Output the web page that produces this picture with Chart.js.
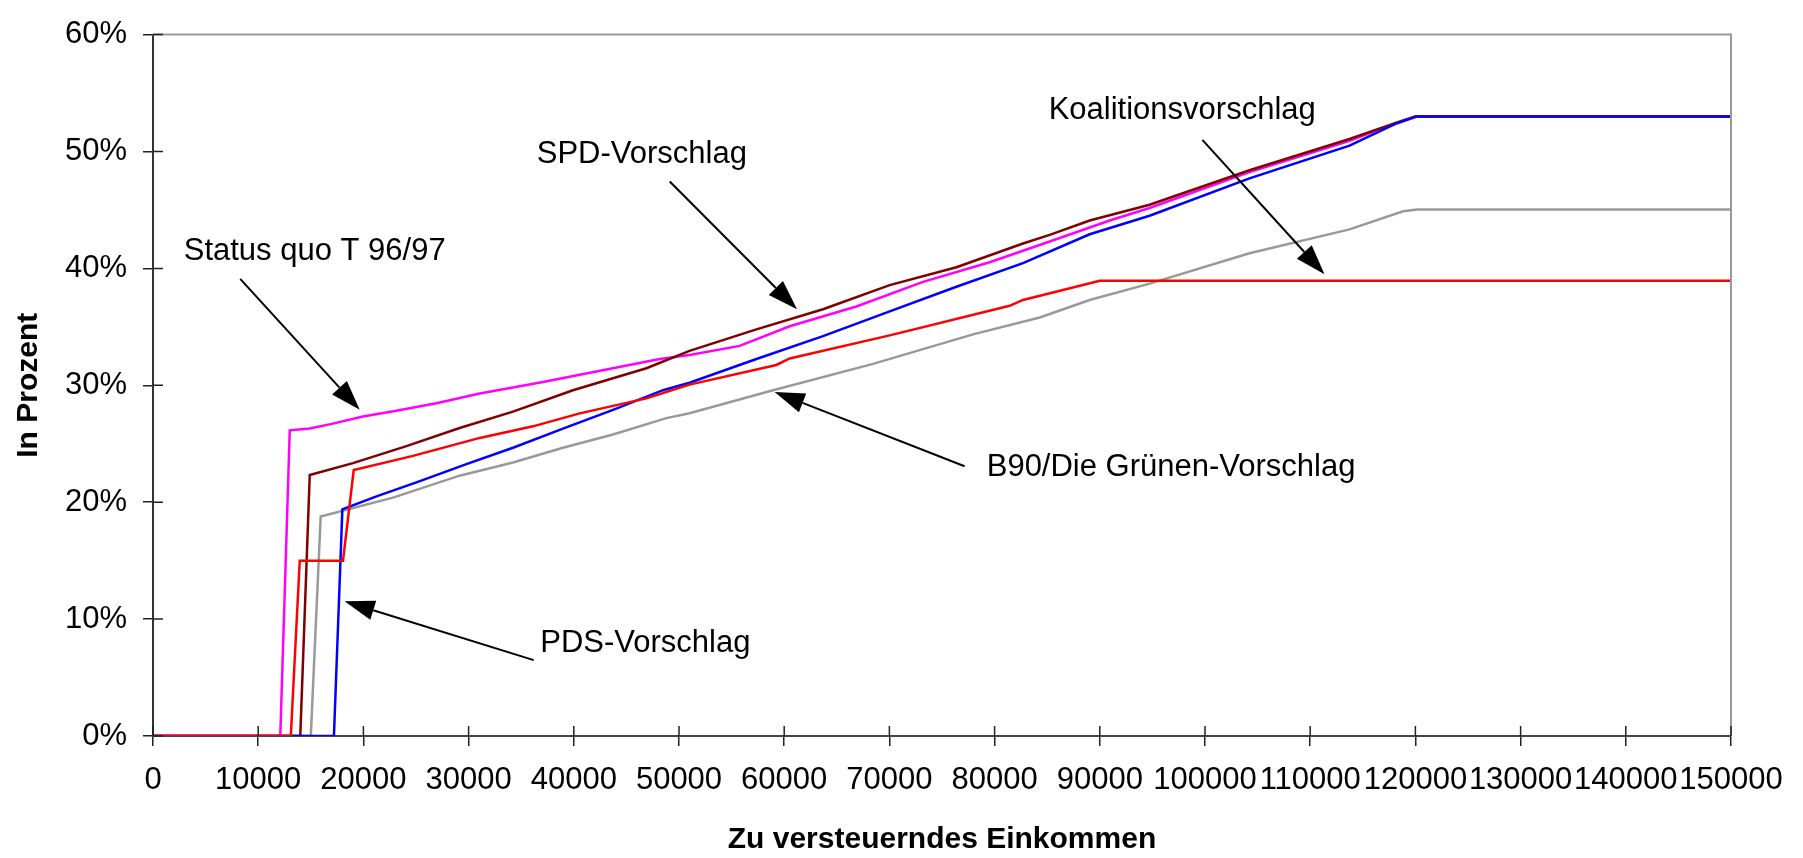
<!DOCTYPE html>
<html>
<head>
<meta charset="utf-8">
<script src="https://cdn.jsdelivr.net/npm/chart.js@4/dist/chart.umd.min.js"></script>
<style>
  body { margin: 0; background: #fff; }
  #wrap { width: 1803px; height: 858px; }
</style>
</head>
<body>
<div id="wrap"><canvas id="tax_chart" width="1803" height="858"></canvas></div>
<script>
// marginal rates in percent, x = taxable income in DM
var status_quo = [[0,0],[12100,0],[13000,26.15],[14900,26.3],[17000,26.7],[19960,27.33],[23000,27.8],[26940,28.46],
    [31060,29.3],[37070,30.28],[43100,31.35],[48170,32.25],[51000,32.59],[55770,33.37],[60520,35.05],[66860,36.74],
    [73200,38.85],[79530,40.53],[85240,42.3],[90940,44.1],[94730,45.17],[104230,48.25],[113740,50.92],[118200,52.45],
    [120000,53],[150000,53]];
var spd = [[0,0],[14000,0],[14900,22.33],[19010,23.34],[24090,24.8],[29150,26.35],[34220,27.75],[39920,29.58],
    [46900,31.46],[51000,32.95],[57360,34.78],[63690,36.51],[70030,38.57],[76370,40.1],[82700,42.13],[85240,42.87],
    [89040,44.1],[94730,45.45],[104230,48.4],[113740,51.07],[118200,52.47],[120000,53],[150000,53]];
var pds = [[0,0],[17200,0],[18000,19.38],[21240,20.5],[25040,21.7],[29790,23.26],[34220,24.66],[38970,26.29],
    [43730,27.9],[48480,29.58],[51000,30.22],[57360,32.25],[63690,34.21],[70030,36.32],[76370,38.43],[82700,40.45],
    [89040,42.92],[94730,44.5],[104230,47.7],[113740,50.5],[118200,52.4],[120200,53],[150000,53]];
var koalition = [[0,0],[13100,0],[13950,15],[18060,15],[19080,22.75],[24720,23.96],[31060,25.5],[36120,26.49],
    [40560,27.6],[46900,28.88],[51000,30.06],[59260,31.74],[60520,32.3],[70030,34.27],[81430,36.8],[82700,37.3],
    [90000,38.95],[150000,38.95]];
var gruene = [[0,0],[15000,0],[15940,18.77],[22810,20.39],[29150,22.27],[34220,23.4],[38970,24.66],[43730,25.79],
    [48800,27.19],[51000,27.61],[58940,29.58],[68440,31.83],[77950,34.36],[84290,35.8],[85240,36.1],[89040,37.3],
    [94730,38.7],[104230,41.29],[113740,43.34],[118830,44.89],[120200,45.03],[150000,45.03]];

// annotations: text anchor (left, middle) and arrows, in data units
var note_text = ['Status quo T 96/97', 'SPD-Vorschlag', 'Koalitionsvorschlag', 'B90/Die Grünen-Vorschlag', 'PDS-Vorschlag'];
var note_x = [2920, 36480, 85140, 79250, 36810];
var note_y = [41.46, 49.72, 53.5, 22.96, 7.95];
var arrow_from = [[8290,39.1],[49120,47.44],[99750,51.0],[77150,23.08],[36190,6.49]];
var arrow_to = [[19650,27.9],[61220,36.5],[111360,39.5],[59090,29.43],[18210,11.52]];

var FONT = 'Arial, "Liberation Sans", sans-serif';

function toPoints(arr) {
    var pts = [];
    for (var p of arr) pts.push({x: p[0], y: p[1]});
    return pts;
}

function line(label, arr, color) {
    return {
        label: label,
        data: toPoints(arr),
        borderColor: color,
        backgroundColor: color,
        borderWidth: 2.5,
        pointRadius: 0,
        tension: 0,
        fill: false
    };
}

var notesPlugin = {
    id: 'notes',
    afterDraw: function(chart) {
        var ctx = chart.ctx, xs = chart.scales.x, ys = chart.scales.y;
        var area = chart.chartArea;
        ctx.save();
        // top / right frame in grey
        ctx.strokeStyle = '#999999';
        ctx.lineWidth = 2;
        ctx.beginPath();
        ctx.moveTo(area.left, area.top);
        ctx.lineTo(area.right, area.top);
        ctx.lineTo(area.right, area.bottom);
        ctx.stroke();
        // inner half of the crossing tick marks
        ctx.strokeStyle = '#222';
        ctx.lineWidth = 1.5;
        ctx.beginPath();
        for (var t of xs.ticks) {
            var px = xs.getPixelForValue(t.value);
            ctx.moveTo(px, area.bottom);
            ctx.lineTo(px, area.bottom - 10);
        }
        for (var t2 of ys.ticks) {
            var py = ys.getPixelForValue(t2.value);
            ctx.moveTo(area.left, py);
            ctx.lineTo(area.left + 10, py);
        }
        ctx.stroke();
        // texts
        ctx.fillStyle = '#000';
        ctx.font = '31px ' + FONT;
        ctx.textAlign = 'left';
        ctx.textBaseline = 'middle';
        for (var i = 0; i < note_text.length; i++) {
            ctx.fillText(note_text[i], xs.getPixelForValue(note_x[i]), ys.getPixelForValue(note_y[i]));
        }
        // arrows
        ctx.strokeStyle = '#000';
        ctx.lineWidth = 2;
        for (var j = 0; j < arrow_from.length; j++) {
            var x1 = xs.getPixelForValue(arrow_from[j][0]), y1 = ys.getPixelForValue(arrow_from[j][1]);
            var x2 = xs.getPixelForValue(arrow_to[j][0]), y2 = ys.getPixelForValue(arrow_to[j][1]);
            var ang = Math.atan2(y2 - y1, x2 - x1);
            var hl = 30, hw = 10;
            var bx = x2 - hl * Math.cos(ang), by = y2 - hl * Math.sin(ang);
            ctx.beginPath();
            ctx.moveTo(x1, y1);
            ctx.lineTo(bx, by);
            ctx.stroke();
            ctx.beginPath();
            ctx.moveTo(x2, y2);
            ctx.lineTo(bx + hw * Math.sin(ang), by - hw * Math.cos(ang));
            ctx.lineTo(bx - hw * Math.sin(ang), by + hw * Math.cos(ang));
            ctx.closePath();
            ctx.fill();
        }
        ctx.restore();
    }
};

var ctx = document.getElementById('tax_chart');
var myChart = new Chart(ctx, {
    type: 'line',
    data: {
        // first dataset is painted on top
        datasets: [
            line('Koalitionsvorschlag', koalition, '#FF0000'),
            line('PDS-Vorschlag', pds, '#0000FF'),
            line('SPD-Vorschlag', spd, '#800000'),
            line('Status quo T 96/97', status_quo, '#FF00FF'),
            line('B90/Die Grünen-Vorschlag', gruene, '#999999')
        ]
    },
    options: {
        responsive: false,
        animation: false,
        devicePixelRatio: 1,
        layout: {
            padding: {left: 0, top: 24, right: 72, bottom: 0}
        },
        plugins: {
            legend: {display: false},
            tooltip: {enabled: false}
        },
        scales: {
            x: {
                type: 'linear',
                min: 0,
                max: 150000,
                afterFit: function(scale) { scale.height = 122; },
                ticks: {
                    stepSize: 10000,
                    autoSkip: false,
                    maxRotation: 0,
                    padding: 16,
                    color: '#000',
                    font: {family: FONT, size: 31},
                    callback: function(v) { return String(v); }
                },
                grid: {drawOnChartArea: false, tickLength: 10, color: '#222', lineWidth: 1.5},
                border: {color: '#444', width: 2},
                title: {
                    display: true,
                    text: 'Zu versteuerndes Einkommen',
                    color: '#000',
                    font: {family: FONT, size: 30, weight: 'bold'},
                    padding: {top: 0, bottom: 0}
                }
            },
            y: {
                min: 0,
                max: 60,
                afterFit: function(scale) { scale.width = 153; },
                ticks: {
                    stepSize: 10,
                    padding: 16,
                    color: '#000',
                    font: {family: FONT, size: 31},
                    callback: function(v) { return v + '%'; }
                },
                grid: {drawOnChartArea: false, tickLength: 10, color: '#222', lineWidth: 1.5},
                border: {color: '#333', width: 2},
                title: {
                    display: true,
                    text: 'In Prozent',
                    color: '#000',
                    font: {family: FONT, size: 30, weight: 'bold'},
                    padding: {top: 11, bottom: 0}
                }
            }
        }
    },
    plugins: [notesPlugin]
});
</script>
</body>
</html>
